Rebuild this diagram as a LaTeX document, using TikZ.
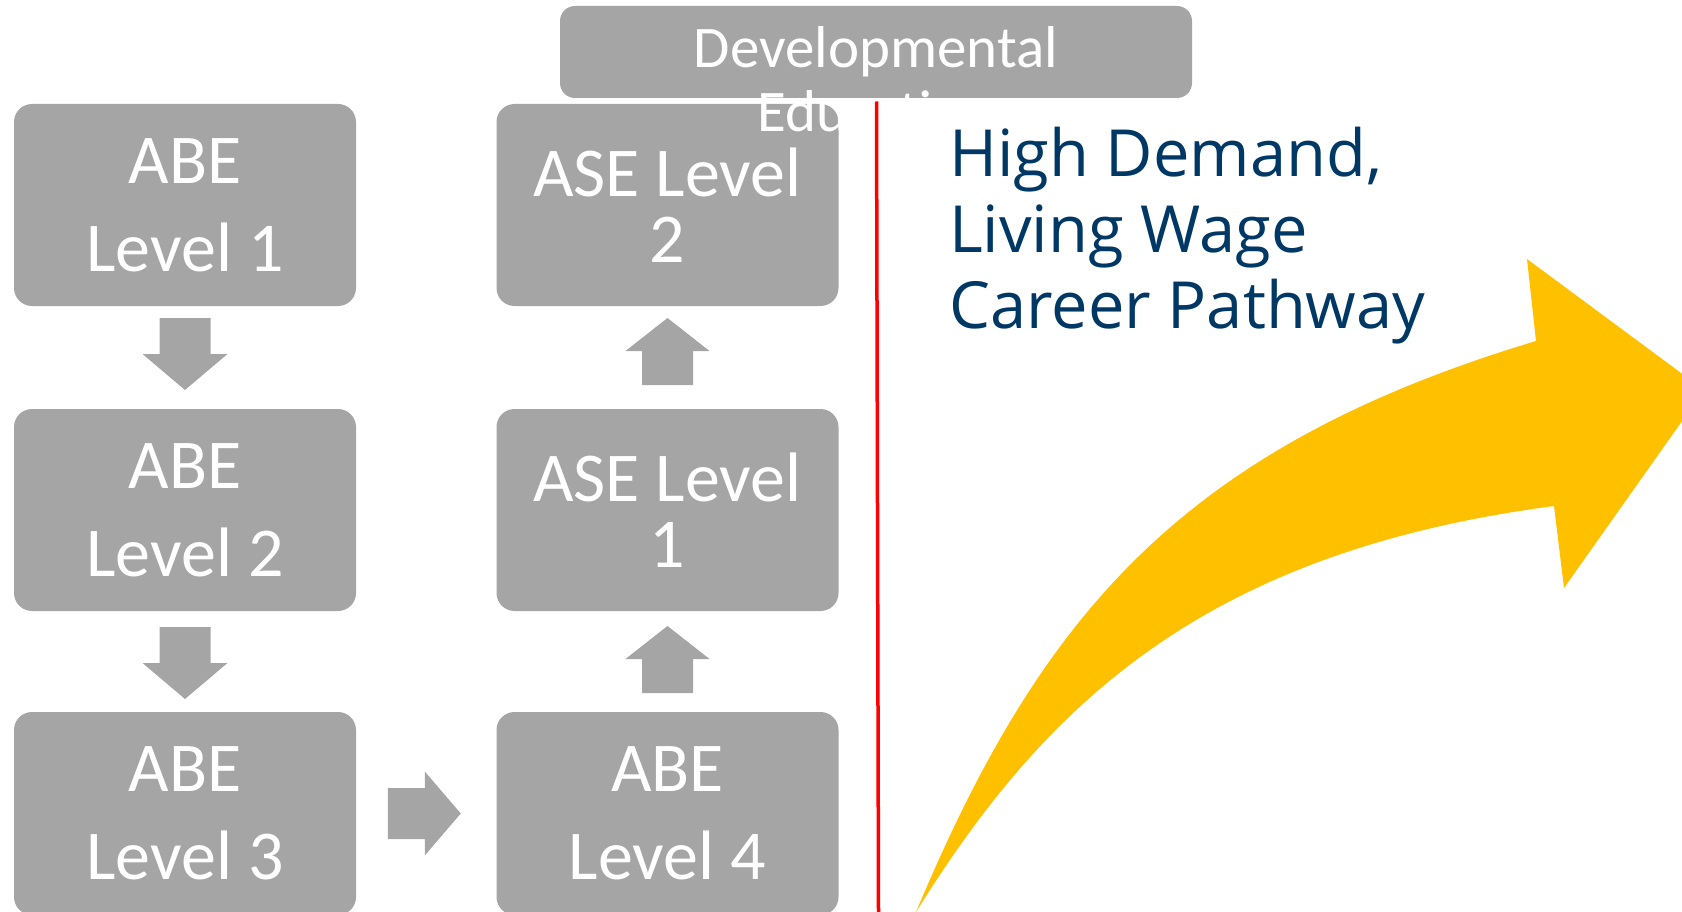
\documentclass[tikz,border=0pt]{standalone}
\usepackage{fontspec}
\setmainfont{Carlito}
\newfontfamily\headfont{Open Sans}
\usetikzlibrary{calc}
\definecolor{boxgrey}{HTML}{A5A5A5}
\definecolor{pathyellow}{HTML}{FFC000}
\definecolor{navyblue}{RGB}{0,56,101}
\begin{document}
\begin{tikzpicture}[x=1pt,y=-1pt,
  levelbox/.style={fill=boxgrey, rounded corners=18pt, minimum width=342pt, minimum height=202pt, inner sep=0pt, text=white, align=center},
  abetext/.style={font=\fontsize{70}{88}\selectfont},
  asetext/.style={font=\fontsize{70}{66}\selectfont},
  pics/downarrow/.style={code={\fill[boxgrey] (-25.5,-36) -- (25.5,-36) -- (25.5,0) -- (42.5,0) -- (0,36) -- (-42.5,0) -- (-25.5,0) -- cycle;}},
  pics/uparrow/.style={code={\fill[boxgrey] (-25.5,33) -- (25.5,33) -- (25.5,-1) -- (42,-1) -- (0,-34) -- (-42,-1) -- (-25.5,-1) -- cycle;}},
  pics/rightarrow/.style={code={\fill[boxgrey] (-36.5,-25.5) -- (0.5,-25.5) -- (0.5,-42) -- (36.5,0) -- (0.5,42) -- (0.5,25.5) -- (-36.5,25.5) -- cycle;}}
]
\useasboundingbox (0,0) rectangle (1682,912);
\begin{scope}
\clip (0,0) rectangle (1682,912);
% left column
\node[levelbox, abetext] (l1) at (185,205) {ABE\\Level 1};
\node[levelbox, abetext] (l2) at (185,510) {ABE\\Level 2};
\node[levelbox, abetext, minimum height=203pt] (l3) at (185,813.5) {ABE\\Level 3};
% right column
\node[levelbox, asetext] (a2) at (667.5,205) {ASE Level\\2};
\node[levelbox, asetext] (a1) at (667.5,510) {ASE Level\\1};
\node[levelbox, abetext, minimum height=203pt] (l4) at (667.5,813.5) {ABE\\Level 4};
% developmental education
\node[fill=boxgrey, rounded corners=15pt, minimum width=632pt, minimum height=92pt, inner sep=0pt] (dev) at (876,52) {};
\node[text=white, align=center, inner sep=0pt, font=\fontsize{59}{63.4}\selectfont] (devtext) at (876,79.4) {Developmental\\Education};
% block arrows
\pic at ($(l1.south)!0.5!(l2.north)+(0,-3.5)$) {downarrow};
\pic at ($(l2.south)!0.5!(l3.north)+(0,1.5)$) {downarrow};
\pic at ($(a1.north)!0.5!(a2.south)+(0,-5.5)$) {uparrow};
\pic at ($(l4.north)!0.5!(a1.south)+(0,-1.5)$) {uparrow};
\pic at ($(l3.east)!0.5!(l4.west)+(-2,0)$) {rightarrow};
% heading
\node[anchor=north west, inner sep=0pt, align=left, text=navyblue, font=\headfont\fontsize{65}{76}\selectfont] (head) at (949,127.2) {High Demand,\\Living Wage\\Career Pathway};
% yellow arrow
\fill[pathyellow] (916,912) .. controls (1040,617) and (1180,448) .. (1536,341) -- (1527,259) -- (1704,390) -- (1564,588) -- (1554,506) .. controls (1205,552) and (1046,703) .. (916,912) -- cycle;
% red divider
\coordinate (redtop) at (876.5,101.5);
\coordinate (redbottom) at (878.5,912);
\draw[red, line width=3.5pt] (redtop) -- (redbottom);
\end{scope}
\end{tikzpicture}
\end{document}
